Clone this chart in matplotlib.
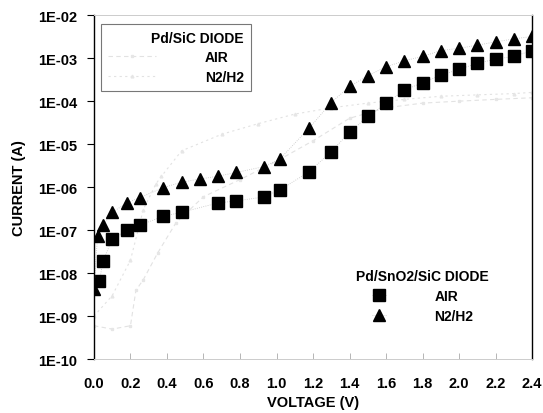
import numpy as np
import matplotlib.pyplot as plt
from matplotlib.ticker import FixedLocator, FixedFormatter

plt.rcParams['font.family'] = ['Liberation Sans', 'DejaVu Sans']
plt.rcParams['font.weight'] = 'bold'

# Pd/SnO2/SiC diode
v_air = [0.03, 0.05, 0.10, 0.18, 0.25, 0.38, 0.48, 0.68, 0.78, 0.93, 1.02, 1.18,
         1.30, 1.40, 1.50, 1.60, 1.70, 1.80, 1.90, 2.00, 2.10, 2.20, 2.30, 2.40]
i_air = [6.6e-9, 1.9e-8, 6.2e-8, 1.0e-7, 1.3e-7, 2.1e-7, 2.6e-7, 4.3e-7, 4.8e-7, 5.9e-7,
         8.7e-7, 2.3e-6, 6.7e-6, 1.9e-5, 4.4e-5, 8.9e-5, 1.8e-4, 2.7e-4, 4.0e-4, 5.5e-4,
         7.6e-4, 9.5e-4, 1.1e-3, 1.5e-3]
v_h2 = [0.0, 0.02, 0.05, 0.10, 0.18, 0.25, 0.38, 0.48, 0.58, 0.68, 0.78, 0.93, 1.02, 1.18,
        1.30, 1.40, 1.50, 1.60, 1.70, 1.80, 1.90, 2.00, 2.10, 2.20, 2.30, 2.40]
i_h2 = [4.4e-9, 7.4e-8, 1.3e-7, 2.6e-7, 4.3e-7, 5.7e-7, 9.8e-7, 1.3e-6, 1.55e-6, 1.8e-6,
        2.2e-6, 3.0e-6, 4.6e-6, 2.4e-5, 9.3e-5, 2.2e-4, 3.9e-4, 6.3e-4, 8.7e-4, 1.1e-3,
        1.5e-3, 1.7e-3, 2.0e-3, 2.4e-3, 2.8e-3, 3.2e-3]

# Pd/SiC diode (faint in the scan)
v_sic_air = [0.0, 0.1, 0.2, 0.23, 0.27, 0.35, 0.45, 0.6, 0.8, 1.0, 1.2, 1.4, 1.6, 1.8, 2.0, 2.2, 2.4]
i_sic_air = [6e-10, 5e-10, 6e-10, 4e-9, 7e-9, 3e-8, 1.5e-7, 6e-7, 1.5e-6, 4e-6, 1.2e-5,
             4e-5, 7e-5, 9e-5, 1.0e-4, 1.1e-4, 1.2e-4]
v_sic_h2 = [0.0, 0.1, 0.2, 0.27, 0.34, 0.37, 0.48, 0.7, 0.9, 1.1, 1.3, 1.5, 1.7, 1.9, 2.1, 2.3, 2.4]
i_sic_h2 = [1e-9, 3e-9, 2e-8, 3e-7, 1.2e-6, 1.8e-6, 7e-6, 1.7e-5, 3e-5, 5e-5, 7e-5,
            9e-5, 1.1e-4, 1.3e-4, 1.4e-4, 1.5e-4, 1.6e-4]

yticks = [1e-10, 1e-9, 1e-8, 1e-7, 1e-6, 1e-5, 1e-4, 1e-3, 1e-2]
ylabels = ['1E-10', '1E-09', '1E-08', '1E-07', '1E-06', '1E-05', '1E-04', '1E-03', '1E-02']
xticks = [0.0, 0.2, 0.4, 0.6, 0.8, 1.0, 1.2, 1.4, 1.6, 1.8, 2.0, 2.2, 2.4]

fig = plt.figure(figsize=(5.43, 4.14), dpi=100)
ax = fig.add_axes([0.173, 0.130, 0.807, 0.831])

s1, = ax.plot(v_sic_air, i_sic_air, color='#e2e2e2', lw=0.8, ls=(0, (4, 3)),
              marker='s', ms=2, mfc='#e6e6e6', mec='#e6e6e6')
s2, = ax.plot(v_sic_h2, i_sic_h2, color='#e2e2e2', lw=0.8, ls=(0, (2, 3)),
              marker='^', ms=2, mfc='#e6e6e6', mec='#e6e6e6')

p1, = ax.plot(v_air, i_air, ls=':', lw=0.6, color='#c4c4c4', marker='s', ms=8,
              mfc='black', mec='black')
p2, = ax.plot(v_h2, i_h2, ls=':', lw=0.6, color='#c4c4c4', marker='^', ms=8.5,
              mfc='black', mec='black')

ax.set_yscale('log')
ax.set_ylim(1e-10, 1e-2)
ax.set_xlim(0.0, 2.4)
ax.yaxis.set_major_locator(FixedLocator(yticks))
ax.yaxis.set_major_formatter(FixedFormatter(ylabels))
ax.yaxis.set_minor_locator(FixedLocator([]))
ax.set_xticks(xticks)
ax.set_xticklabels(['%.1f' % x for x in xticks])

ax.tick_params(axis='y', direction='out', length=5, width=0.8, labelsize=10.5, pad=7)
ax.tick_params(axis='x', direction='in', length=4, width=0.6, color='#aaaaaa',
               labelsize=10.5, pad=12)
for lab in ax.get_xticklabels() + ax.get_yticklabels():
    lab.set_fontweight('bold')

for side in ['top', 'bottom']:
    ax.spines[side].set_color('#cccccc')
    ax.spines[side].set_linewidth(0.7)
ax.spines['left'].set_linewidth(1.0)
ax.spines['right'].set_linewidth(1.0)

ax.set_xlabel('VOLTAGE (V)', fontsize=10.5, fontweight='bold', labelpad=4)
ax.set_ylabel('CURRENT (A)', fontsize=10.5, fontweight='bold', labelpad=9)

leg1 = ax.legend([s1, s2], ['AIR', 'N2/H2'], title='Pd/SiC DIODE', loc='upper left',
                 bbox_to_anchor=(0.0, 0.995), frameon=True, fancybox=False,
                 edgecolor='#555555', fontsize=10, title_fontsize=10,
                 handlelength=3.5, handletextpad=3.5, borderpad=0.5, labelspacing=0.4,
                 alignment='right')
leg1.get_title().set_fontweight('bold')
leg1.get_frame().set_linewidth(0.8)
for t in leg1.get_texts():
    t.set_fontweight('bold')
ax.add_artist(leg1)

leg2 = ax.legend([p1, p2], ['AIR', 'N2/H2'], title='Pd/SnO2/SiC DIODE', loc='lower right',
                 bbox_to_anchor=(0.93, 0.07), frameon=False, fontsize=10, title_fontsize=10,
                 handlelength=1.0, handletextpad=3.5, labelspacing=0.4)
leg2.get_title().set_fontweight('bold')
for t in leg2.get_texts():
    t.set_fontweight('bold')

fig.savefig('out.png', dpi=100)
